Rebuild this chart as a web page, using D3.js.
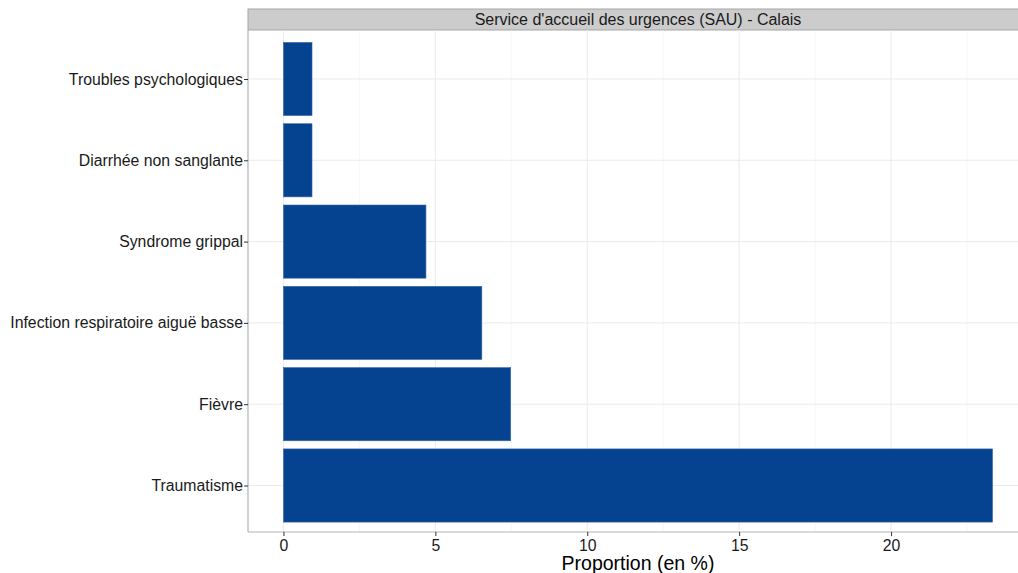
<!DOCTYPE html>
<html>
<head>
<meta charset="utf-8">
<script src="https://cdn.jsdelivr.net/npm/d3@7"></script>
<style>
  body { margin: 0; background: #fff; }
  text { font-family: "Liberation Sans", Arial, sans-serif; }
</style>
</head>
<body>
<div id="chart"></div>
<script>
// data
var categories = ["Troubles psychologiques", "Diarrhée non sanglante", "Syndrome grippal",
  "Infection respiratoire aiguë basse", "Fièvre", "Traumatisme"];
var proportions = [0.94, 0.94, 4.69, 6.53, 7.48, 23.34];
var xTicks = [0, 5, 10, 15, 20];
var stripTitle = "Service d'accueil des urgences (SAU) - Calais";
var xTitle = "Proportion (en %)";

var svgWidth = 1018, svgHeight = 573;
// panel box (right side runs past the window, like the reference)
var panel = { left: 248, top: 30, right: 1028, bottom: 532 };

var svg = d3.select("#chart").append("svg")
  .attr("width", svgWidth)
  .attr("height", svgHeight);

var maxVal = d3.max(proportions);
var pad = maxVal * 0.05;
var x = d3.scaleLinear()
  .domain([-pad, maxVal + pad])
  .range([panel.left, panel.right]);

// discrete axis with ggplot-like expansion
var y = d3.scalePoint()
  .domain(categories)
  .range([panel.top + 49, panel.bottom - 46.5]);
var step = y.step();
var barH = step * 0.9;

// strip
svg.append("rect")
  .attr("x", panel.left).attr("y", 9)
  .attr("width", panel.right - panel.left).attr("height", panel.top - 9)
  .attr("fill", "#cccccc").attr("stroke", "#a6a6a6").attr("stroke-width", 1);
svg.append("text")
  .attr("x", (panel.left + panel.right) / 2).attr("y", 25)
  .attr("text-anchor", "middle")
  .attr("font-size", "16px").attr("fill", "#1a1a1a")
  .text(stripTitle);

// grid
var minor = d3.range(2.5, maxVal + pad, 5);
svg.append("g").selectAll("line").data(minor).enter().append("line")
  .attr("x1", d => x(d)).attr("x2", d => x(d))
  .attr("y1", panel.top).attr("y2", panel.bottom)
  .attr("stroke", "#f2f2f2").attr("stroke-width", 0.6);
svg.append("g").selectAll("line").data(xTicks).enter().append("line")
  .attr("x1", d => x(d)).attr("x2", d => x(d))
  .attr("y1", panel.top).attr("y2", panel.bottom)
  .attr("stroke", "#ebebeb").attr("stroke-width", 1);
svg.append("g").selectAll("line").data(categories).enter().append("line")
  .attr("x1", panel.left).attr("x2", panel.right)
  .attr("y1", d => y(d)).attr("y2", d => y(d))
  .attr("stroke", "#ebebeb").attr("stroke-width", 1);

// bars
svg.append("g").selectAll("rect").data(categories).enter().append("rect")
  .attr("x", x(0))
  .attr("y", d => y(d) - barH / 2)
  .attr("width", (d, i) => x(proportions[i]) - x(0))
  .attr("height", barH)
  .attr("fill", "#05428f")
  .attr("stroke", "#3c6aa8").attr("stroke-width", 0.6);

// axes
var xAxis = svg.append("g")
  .attr("transform", `translate(0, ${panel.bottom})`)
  .call(d3.axisBottom(x).tickValues(xTicks).tickSize(4).tickPadding(4));
var yAxis = svg.append("g")
  .attr("transform", `translate(${panel.left}, 0)`)
  .call(d3.axisLeft(y).tickSize(4).tickPadding(1));

[xAxis, yAxis].forEach(function(ax) {
  ax.select(".domain").attr("stroke", "#b3b3b3").attr("stroke-width", 1.2);
  ax.selectAll(".tick line").attr("stroke", "#333333");
  ax.selectAll(".tick text")
    .attr("font-size", "15.8px").attr("fill", "#1a1a1a")
    .attr("font-family", "Liberation Sans, Arial, sans-serif");
});
// yaxis domain only runs down the panel
yAxis.select(".domain").attr("d", `M0,${panel.top}V${panel.bottom}`);
xAxis.select(".domain").attr("d", `M${panel.left},0H${panel.right}`);

svg.append("text")
  .attr("x", (panel.left + panel.right) / 2).attr("y", 570)
  .attr("text-anchor", "middle")
  .attr("font-size", "19.5px").attr("fill", "#000")
  .text(xTitle);
</script>
</body>
</html>
